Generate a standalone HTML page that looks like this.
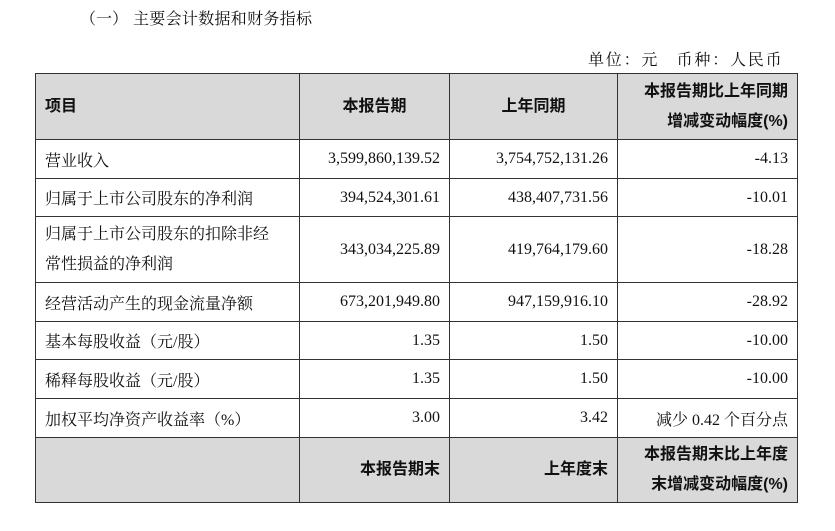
<!DOCTYPE html>
<html><head><meta charset="utf-8"><style>
body{margin:0;width:835px;height:531px;background:#fff;position:relative;font-family:"Liberation Serif","Noto Serif CJK SC",serif;color:#111;}
.t{position:absolute;font-size:16px;white-space:nowrap;}
table{position:absolute;left:35px;top:73px;border-collapse:collapse;font-size:16px;}
td{border:1.5px solid #333;padding:0 9px;text-align:right;}
td:first-child{text-align:left;}
.h td{background:#d9d9d9;font-family:"Liberation Sans","Noto Sans CJK SC",sans-serif;font-weight:bold;line-height:30px;}
.h td:nth-child(2),.h td:nth-child(3){text-align:center;}
.h2 td:nth-child(2),.h2 td:nth-child(3){text-align:right;}
.h td:last-child{text-align:right;}
</style></head><body>
<div class="t" style="left:80px;top:6px;">（一）</div>
<div class="t" style="left:133px;top:6px;letter-spacing:0.3px;">主要会计数据和财务指标</div>
<div class="t" style="left:588px;top:47px;letter-spacing:1.8px;">单位：元&nbsp;&nbsp;&nbsp;币种：人民币</div>
<table>
<colgroup><col style="width:264px"><col style="width:150px"><col style="width:168px"><col style="width:180px"></colgroup>
<tr class="h" style="height:66px"><td>项目</td><td>本报告期</td><td>上年同期</td><td>本报告期比上年同期<br>增减变动幅度(%)</td></tr>
<tr style="height:39px"><td>营业收入</td><td>3,599,860,139.52</td><td>3,754,752,131.26</td><td>-4.13</td></tr>
<tr style="height:38px"><td>归属于上市公司股东的净利润</td><td>394,524,301.61</td><td>438,407,731.56</td><td>-10.01</td></tr>
<tr style="height:66px"><td style="line-height:30px">归属于上市公司股东的扣除非经<br>常性损益的净利润</td><td>343,034,225.89</td><td>419,764,179.60</td><td>-18.28</td></tr>
<tr style="height:39px"><td>经营活动产生的现金流量净额</td><td>673,201,949.80</td><td>947,159,916.10</td><td>-28.92</td></tr>
<tr style="height:38px"><td>基本每股收益（元/股）</td><td>1.35</td><td>1.50</td><td>-10.00</td></tr>
<tr style="height:39px"><td>稀释每股收益（元/股）</td><td>1.35</td><td>1.50</td><td>-10.00</td></tr>
<tr style="height:39px"><td>加权平均净资产收益率（%）</td><td>3.00</td><td>3.42</td><td>减少 0.42 个百分点</td></tr>
<tr class="h h2" style="height:65px"><td></td><td>本报告期末</td><td>上年度末</td><td>本报告期末比上年度<br>末增减变动幅度(%)</td></tr>
</table>
</body></html>
